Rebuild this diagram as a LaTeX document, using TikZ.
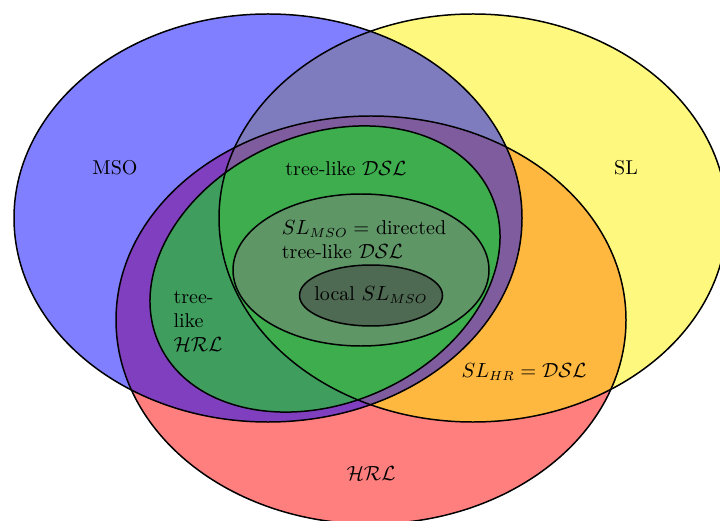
\documentclass[tikz,border=0pt]{standalone}
\begin{document}
\begin{tikzpicture}[x=0.535pt,y=0.535pt,
  setfill/.style={fill=#1,fill opacity=0.5,draw=none},
  outline/.style={draw=black,line width=0.8pt,fill=none},
  every node/.style={font=\fontsize{10.7}{12.9}\selectfont}]
\useasboundingbox (0,0) rectangle (720,-520);
\clip (0,0) rectangle (720,-520);
% fills (order: red, yellow, blue, green, gray, darkgray)
\path[setfill=red] (371,-320) ellipse [x radius=255, y radius=204];
\path[setfill=yellow] (473,-218) ellipse [x radius=254, y radius=204];
\path[setfill=blue] (268,-218) ellipse [x radius=254, y radius=204];
\path[setfill=green] (325,-269) ellipse [x radius=182, y radius=134, rotate=24];
\path[setfill=gray] (361,-270) ellipse [x radius=128, y radius=76];
\path[setfill=darkgray] (371,-295.5) ellipse [x radius=71.5, y radius=30.5];
% outlines
\path[outline] (371,-320) ellipse [x radius=255, y radius=204];
\path[outline] (473,-218) ellipse [x radius=254, y radius=204];
\path[outline] (268,-218) ellipse [x radius=254, y radius=204];
\path[outline] (325,-269) ellipse [x radius=182, y radius=134, rotate=24];
\path[outline] (361,-270) ellipse [x radius=128, y radius=76];
\path[outline] (371,-295.5) ellipse [x radius=71.5, y radius=30.5];
% labels
\node (mso) at (115,-168) {MSO};
\node (sl) at (626,-168) {SL};
\node (tdsl) at (346,-169) {tree-like $\mathcal{DSL}$};
\node[align=left] (slmso) at (364,-240) {$SL_{MSO} =$ directed\\tree-like $\mathcal{DSL}$};
\node (local) at (371,-295) {local $SL_{MSO}$};
\node[align=left] (thrl) at (198,-321) {tree-\\like\\$\mathcal{HRL}$};
\node (slhr) at (524,-372) {$SL_{HR} = \mathcal{DSL}$};
\node (hrl) at (371,-474) {$\mathcal{HRL}$};
\end{tikzpicture}
\end{document}
